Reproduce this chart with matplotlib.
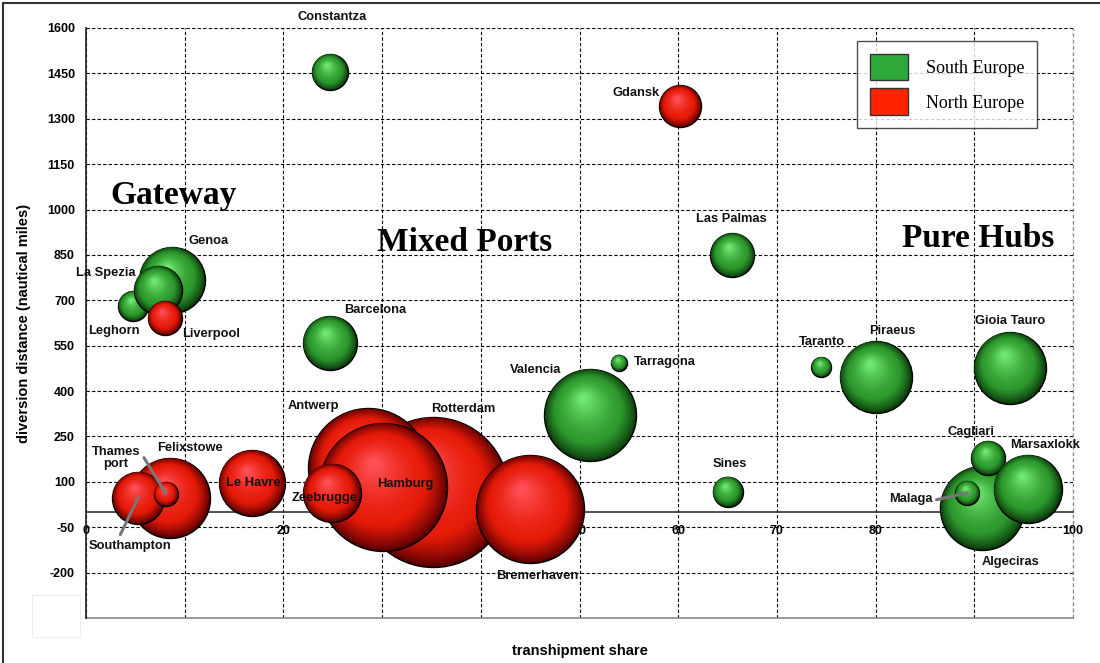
import matplotlib
matplotlib.use("Agg")
import matplotlib.pyplot as plt
import matplotlib.transforms as mtransforms
from matplotlib.patches import Patch, Rectangle
from matplotlib.colors import to_rgb
import numpy as np

plt.rcParams["axes.unicode_minus"] = False

# Port data (drawing order matters: later bubbles sit on top)
ports = ["Constantza", "Gdansk", "Leghorn", "Genoa", "La Spezia", "Liverpool",
         "Barcelona", "Las Palmas", "Tarragona", "Valencia", "Taranto", "Piraeus",
         "Gioia Tauro", "Sines", "Algeciras", "Cagliari", "Marsaxlokk", "Malaga",
         "Felixstowe", "Southampton", "Thames\nport", "Le Havre", "Rotterdam",
         "Antwerp", "Hamburg", "Zeebrugge", "Bremerhaven"]
region = ["S", "N", "S", "S", "S", "N",
          "S", "S", "S", "S", "S", "S",
          "S", "S", "S", "S", "S", "S",
          "N", "N", "N", "N", "N",
          "N", "N", "N", "N"]
tranship_share = [24.7, 60.2, 4.8, 8.7, 7.3, 8.0,
                  24.7, 65.5, 54.0, 51.1, 74.5, 80.0,
                  93.6, 65.0, 90.8, 91.4, 95.4, 89.3,
                  8.5, 5.3, 8.1, 16.8, 35.2,
                  28.6, 30.1, 24.9, 45.0]
diversion = [1455, 1342, 682, 768, 735, 642,
             560, 850, 494, 322, 480, 447,
             477, 68, 15, 180, 78, 64,
             48, 48, 61, 97, 68,
             146, 84, 64, 11]
# relative bubble size (throughput)
bubble_size = [18, 21, 15, 33, 24, 17,
               27, 22, 8, 46, 10, 36,
               36, 15, 42, 17, 34, 12,
               40, 26, 12, 33, 75,
               60, 64, 29, 54]

# label offsets from bubble centre (pixels)
label_off = {
    "Constantza": (2, 55), "Gdansk": (-44, 13), "Genoa": (37, 39),
    "La Spezia": (-52, 17), "Leghorn": (-20, -25), "Liverpool": (46, -16),
    "Barcelona": (45, 33), "Las Palmas": (-1, 36), "Tarragona": (46, 1),
    "Valencia": (-55, 45), "Taranto": (1, 25), "Piraeus": (17, 46),
    "Gioia Tauro": (0, 47), "Antwerp": (-55, 62), "Rotterdam": (30, 83),
    "Thames\nport": (-50, 36), "Felixstowe": (20, 50), "Le Havre": (1, 0),
    "Hamburg": (22, 3), "Zeebrugge": (-7, -5), "Southampton": (-8, -48),
    "Bremerhaven": (7, -67), "Sines": (2, 28), "Cagliari": (-17, 26),
    "Marsaxlokk": (17, 44), "Malaga": (-57, -6), "Algeciras": (28, -54),
}
leaders = {"Thames\nport": ((-22, 36), (0, 9)),
           "Southampton": ((-18, -37), (-8, -19)),
           "Malaga": ((-31, -7), (-7, -2))}

colors = {
    "S": {"edge": "#0b3a0b", "base": "#2e9a2e", "hi": "#70e870"},
    "N": {"edge": "#5a0000", "base": "#e61a08", "hi": "#ff4f55"},
}

fig = plt.figure(figsize=(11, 6.63), dpi=100)
ax = fig.add_axes([86 / 1100, 1 - 618 / 663, (1073 - 86) / 1100, (618 - 28) / 663])
ax.set_xlim(0, 100)
ax.set_ylim(-350, 1600)

ax.set_yticks(np.arange(-200, 1601, 150))
ax.set_xticks(np.arange(0, 101, 10))
ax.grid(True, color="black", linestyle=(0, (3, 2)), linewidth=0.8)
ax.set_axisbelow(True)
for s in ["top", "right"]:
    ax.spines[s].set_visible(False)
ax.spines["left"].set_color("#222222")
ax.spines["left"].set_linewidth(1.2)
ax.spines["bottom"].set_position(("data", 0))
ax.spines["bottom"].set_color("#333333")
ax.spines["bottom"].set_linewidth(1.2)
ax.axhline(-350, color="#888888", linewidth=1.2, clip_on=False)
ax.axvline(100, color="#888888", linewidth=0.9, linestyle=(0, (3, 2)), clip_on=False)
ax.tick_params(axis="both", length=0, labelsize=9)
ax.tick_params(axis="x", pad=9)
ax.tick_params(axis="y", pad=8)
for lab in ax.get_xticklabels() + ax.get_yticklabels():
    lab.set_fontweight("bold")
    lab.set_fontfamily("Liberation Sans")

ax.set_ylabel("diversion distance (nautical miles)", fontsize=10.5, fontweight="bold",
              family="Liberation Sans")
ax.yaxis.set_label_coords(-0.056, 0.5)
ax.set_xlabel("transhipment share", fontsize=10.5, fontweight="bold",
              family="Liberation Sans")
ax.xaxis.set_label_coords(0.5, -0.044)


def mix(c1, c2, t):
    a = np.array(to_rgb(c1))
    b = np.array(to_rgb(c2))
    return tuple(a + (b - a) * t)


# shaded spheres
n_layers = 45
for i in range(len(ports)):
    x, y, r = tranship_share[i], diversion[i], bubble_size[i]
    c = colors[region[i]]
    for k in range(n_layers):
        t = k / (n_layers - 1)
        rad = r * (1 - 0.92 * t)
        dx, dy = -0.15 * r * t, 0.36 * r * t
        if t < 0.3:
            col = mix(c["edge"], c["base"], (t / 0.3) ** 0.8)
        else:
            col = mix(c["base"], c["hi"], ((t - 0.3) / 0.7) ** 1.4)
        tr = mtransforms.offset_copy(ax.transData, fig=fig, x=dx, y=dy, units="dots")
        ax.scatter([x], [y], s=(2 * rad * 0.72) ** 2, color=col,
                   edgecolors="black" if k == 0 else "none",
                   linewidths=1.0, transform=tr, zorder=3)

# labels
for i, name in enumerate(ports):
    ox, oy = label_off[name]
    ax.annotate(name, (tranship_share[i], diversion[i]), xytext=(ox * 0.72, oy * 0.72),
                textcoords="offset points", ha="center", va="center", fontsize=9.3,
                fontweight="bold", family="Liberation Sans", color="#111111",
                linespacing=1.0, zorder=5)
    if name in leaders:
        (x0, y0), (x1, y1) = leaders[name]
        ax.annotate("", (tranship_share[i], diversion[i]),
                    xytext=(x0 * 0.72, y0 * 0.72), textcoords="offset points",
                    arrowprops=dict(arrowstyle="-", color="#777777", lw=2.2,
                                    shrinkA=0, shrinkB=0),
                    zorder=4)

# category captions
serif = "Liberation Serif"
ax.text(8.9, 1045, "Gateway", fontsize=24, fontweight="bold", family=serif,
        ha="center", va="center")
ax.text(38.4, 890, "Mixed Ports", fontsize=24, fontweight="bold", family=serif,
        ha="center", va="center")
ax.text(90.4, 905, "Pure Hubs", fontsize=24, fontweight="bold", family=serif,
        ha="center", va="center")

handles = [Patch(facecolor="#2fa83a", edgecolor="#333333", label="South Europe"),
           Patch(facecolor="#ff2200", edgecolor="#333333", label="North Europe")]
leg = fig.legend(handles=handles, loc="upper left",
                 bbox_to_anchor=(857 / 1100, 1 - 41 / 663),
                 prop={"family": serif, "size": 13}, frameon=True, fancybox=False,
                 edgecolor="#222222", handlelength=2.1, handleheight=1.9,
                 labelspacing=0.45, borderpad=0.7, handletextpad=1.0,
                 borderaxespad=0)
leg.get_frame().set_linewidth(1.0)
leg.set_zorder(10)

# figure frame and small blank box
fig.patches.append(Rectangle((3 / 1100, -0.1), 1.5, 1.1 - 3 / 663, transform=fig.transFigure,
                             fill=False, edgecolor="#333333", linewidth=1.5))
fig.patches.append(Rectangle((32 / 1100, 1 - 637 / 663), 48 / 1100, 42 / 663,
                             transform=fig.transFigure, fill=False,
                             edgecolor="#eeeeee", linewidth=0.8))

fig.savefig("out.png", dpi=100)
